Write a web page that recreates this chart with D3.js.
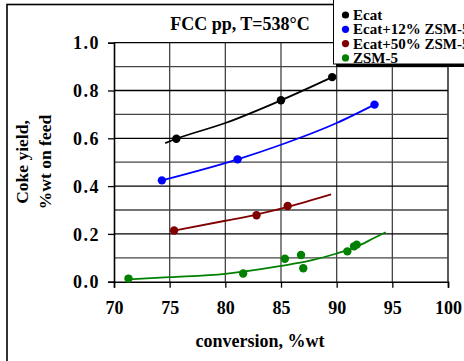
<!DOCTYPE html>
<html>
<head>
<meta charset="utf-8">
<script src="https://cdn.jsdelivr.net/npm/d3@7"></script>
<style>
  html, body { margin: 0; padding: 0; background: #fff; }
  svg { display: block; font-family: "Liberation Serif", "Times New Roman", serif; font-weight: bold; }
</style>
</head>
<body>
<div id="chart"></div>
<script>
// measured points
const seriesNames = ["Ecat", "Ecat+12% ZSM-5", "Ecat+50% ZSM-5", "ZSM-5"];
const seriesColors = ["#000000", "#0000ff", "#800000", "#008000"];

const ecatPts = [[75.6, 0.598], [85.0, 0.759], [89.6, 0.856]];
const ecat12Pts = [[74.3, 0.424], [81.1, 0.512], [93.4, 0.741]];
const ecat50Pts = [[75.4, 0.214], [82.8, 0.278], [85.6, 0.317]];
const zsmPts = [[71.3, 0.013], [81.6, 0.034], [85.35, 0.096], [86.8, 0.112], [87.0, 0.056],
  [90.96, 0.127], [91.56, 0.148], [91.8, 0.155]];

// fitted trend lines
const ecatFit = [[74.6, 0.580], [75.6, 0.598], [80, 0.664], [85, 0.759], [89.6, 0.856]];
const ecat12Fit = [[74.3, 0.424], [81.1, 0.512], [85, 0.573], [90, 0.664], [93.4, 0.741]];
const ecat50Fit = [[75.4, 0.214], [80, 0.255], [82.8, 0.281], [85.6, 0.313], [89.5, 0.365]];
const zsmFit = [[71.3, 0.010], [75, 0.019], [80, 0.033], [85, 0.066], [87.6, 0.088],
  [90, 0.118], [91.8, 0.147], [93.4, 0.184], [94.4, 0.207]];

const xTicks = [70, 75, 80, 85, 90, 95, 100];
const yTicks = [0.0, 0.2, 0.4, 0.6, 0.8, 1.0];
const yMinor = [0.1, 0.3, 0.5, 0.7, 0.9];

const width = 464, height = 361;
const svg = d3.select("#chart").append("svg")
  .attr("width", width)
  .attr("height", height);

// outer frame
svg.append("rect")
  .attr("x", 7).attr("y", 4.5)
  .attr("width", width + 20).attr("height", height + 20)
  .attr("fill", "none").attr("stroke", "#000").attr("stroke-width", 1.6);

const x = d3.scaleLinear().domain([70, 100]).range([114, 448]);
const y = d3.scaleLinear().domain([0, 1]).range([281.7, 42.7]);

// grid
const grid = svg.append("g");
grid.selectAll("line.v")
  .data(xTicks.slice(1))
  .join("line")
  .attr("x1", d => x(d)).attr("x2", d => x(d))
  .attr("y1", y(0)).attr("y2", y(1))
  .attr("stroke", d => d === 100 ? "#000" : "#444")
  .attr("stroke-width", 1.3);
grid.selectAll("line.minor")
  .data(yMinor)
  .join("line")
  .attr("x1", x(70)).attr("x2", x(100))
  .attr("y1", d => y(d)).attr("y2", d => y(d))
  .attr("stroke", "#444").attr("stroke-width", 1.3);
grid.selectAll("line.major")
  .data(yTicks.slice(1))
  .join("line")
  .attr("x1", x(70)).attr("x2", x(100))
  .attr("y1", d => y(d)).attr("y2", d => y(d))
  .attr("stroke", "#000").attr("stroke-width", 1.3);

// axes
const xAxis = svg.append("g")
  .attr("transform", `translate(0,${y(0)})`)
  .call(d3.axisBottom(x).tickValues(xTicks).tickSize(6).tickPadding(14).tickFormat(d3.format("d")));
const yAxis = svg.append("g")
  .attr("transform", `translate(${x(70)},0)`)
  .call(d3.axisLeft(y).tickValues(yTicks).tickSize(6).tickPadding(8).tickFormat(d3.format(".1f")));
[xAxis, yAxis].forEach(a => {
  a.select(".domain").attr("stroke", "#000").attr("stroke-width", 1.6);
  a.selectAll(".tick line").attr("stroke", "#000").attr("stroke-width", 1.3);
  a.selectAll(".tick text")
    .attr("fill", "#000")
    .style("font-family", "'Liberation Serif', serif")
    .style("font-weight", "bold")
    .style("font-size", "18px");
});
yAxis.selectAll(".tick text").attr("dy", "0.34em").attr("letter-spacing", "1.5px");

// titles
svg.append("text")
  .attr("x", 240).attr("y", 30)
  .attr("text-anchor", "middle")
  .style("font-size", "18px")
  .text("FCC pp, T=538°C");

svg.append("text")
  .attr("x", 260).attr("y", 347)
  .attr("text-anchor", "middle")
  .style("font-size", "18px")
  .text("conversion, %wt");

const yt = svg.append("text")
  .attr("transform", "translate(28,162) rotate(-90)")
  .attr("text-anchor", "middle")
  .style("font-size", "17.5px");
yt.append("tspan").attr("x", 0).attr("dy", 0).text("Coke yield,");
yt.append("tspan").attr("x", 0).attr("dy", 23).text("%wt on feed");

// series
const line = d3.line()
  .x(d => x(d[0]))
  .y(d => y(d[1]))
  .curve(d3.curveMonotoneX);

const fits = [ecatFit, ecat12Fit, ecat50Fit, zsmFit];
const pts = [ecatPts, ecat12Pts, ecat50Pts, zsmPts];

svg.append("g").selectAll("path")
  .data(fits)
  .join("path")
  .attr("d", line)
  .attr("fill", "none")
  .attr("stroke", (d, i) => seriesColors[i])
  .attr("stroke-width", 1.8);

pts.forEach((p, i) => {
  svg.append("g").selectAll("circle")
    .data(p)
    .join("circle")
    .attr("cx", d => x(d[0]))
    .attr("cy", d => y(d[1]))
    .attr("r", 4.2)
    .attr("fill", seriesColors[i]);
});

// legend
const lg = svg.append("g");
lg.append("rect")
  .attr("x", 336).attr("y", 2)
  .attr("width", 140).attr("height", 65)
  .attr("fill", "#000");
lg.append("rect")
  .attr("x", 333.5).attr("y", -1)
  .attr("width", 140).attr("height", 65)
  .attr("fill", "#fff").attr("stroke", "#000").attr("stroke-width", 1);
const entries = lg.selectAll("g.entry")
  .data(seriesNames)
  .join("g")
  .attr("transform", (d, i) => `translate(0,${15 + i * 14.3})`);
entries.append("circle")
  .attr("cx", 345.5).attr("cy", 0).attr("r", 3.6)
  .attr("fill", (d, i) => seriesColors[i]);
entries.append("text")
  .attr("x", 353).attr("y", 0).attr("dy", "0.34em")
  .style("font-size", "15px")
  .text(d => d);
</script>
</body>
</html>
